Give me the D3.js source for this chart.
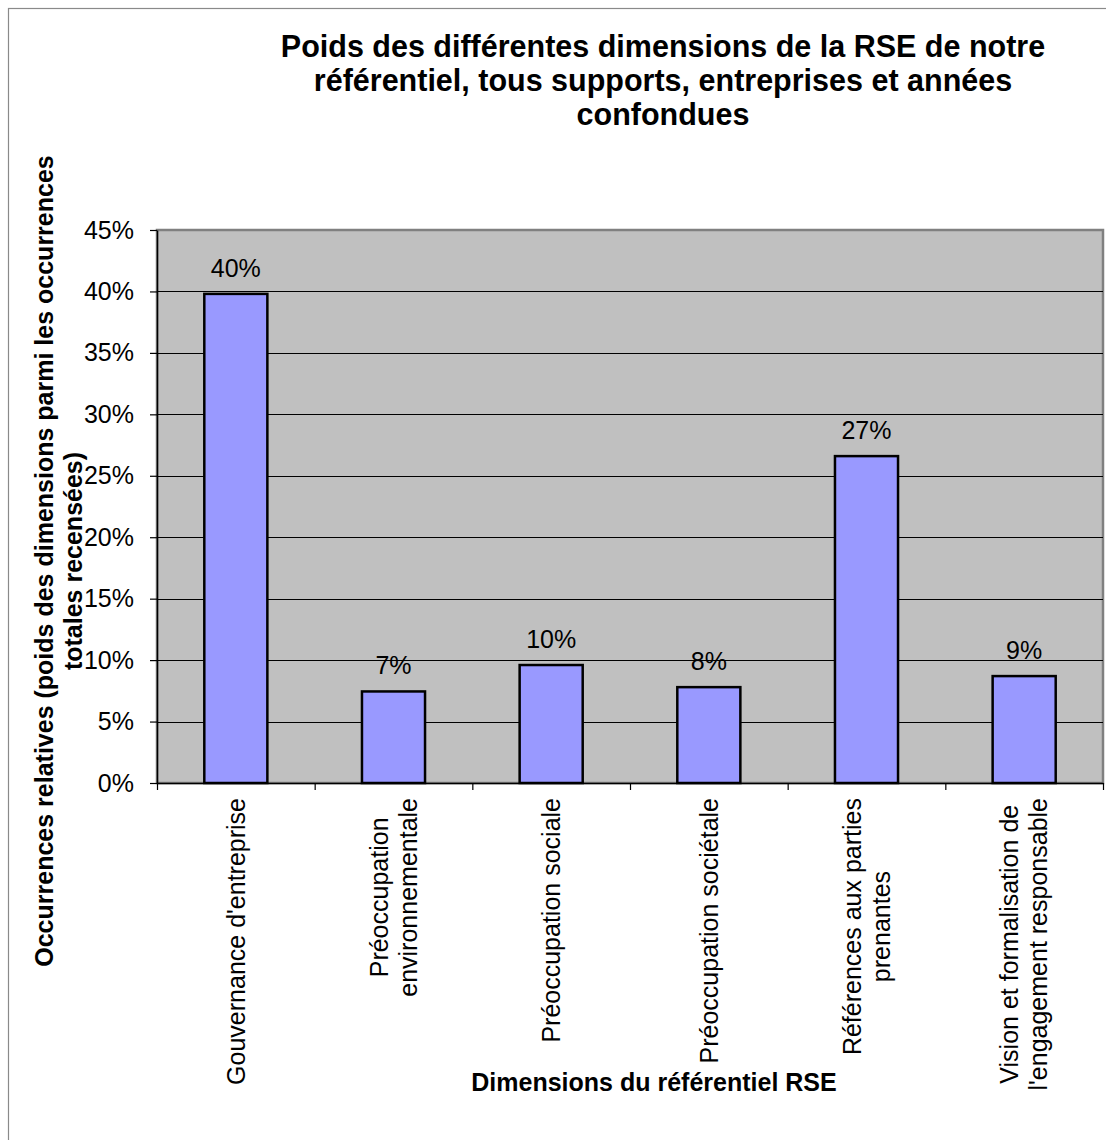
<!DOCTYPE html>
<html>
<head>
<meta charset="utf-8">
<script src="https://cdn.jsdelivr.net/npm/d3@7"></script>
<style>
  body { margin: 0; background: #fff; }
  text { font-family: Arial, "Liberation Sans", sans-serif; fill: #000; }
</style>
</head>
<body>
<script>
// data
var categories = ["Gouvernance d'entreprise", "Préoccupation environnementale", "Préoccupation sociale",
                  "Préoccupation sociétale", "Références aux parties prenantes",
                  "Vision et formalisation de l'engagement responsable"];
var tickLines = [["Gouvernance d'entreprise"], ["Préoccupation", "environnementale"], ["Préoccupation sociale"],
                 ["Préoccupation sociétale"], ["Références aux parties", "prenantes"],
                 ["Vision et formalisation de", "l'engagement responsable"]];
var values = [0.398, 0.0745, 0.096, 0.078, 0.266, 0.087];
var yTicks = [0, 0.05, 0.10, 0.15, 0.20, 0.25, 0.30, 0.35, 0.40, 0.45];
var titleLines = ["Poids des différentes dimensions de la RSE de notre",
                  "référentiel, tous supports, entreprises et années",
                  "confondues"];
var yTitleLines = ["Occurrences relatives (poids des dimensions parmi les occurrences",
                   "totales recensées)"];
var xTitle = "Dimensions du référentiel RSE";

var W = 1106, H = 1140;
var plot = {left: 157, right: 1103, top: 230, bottom: 783};

var svg = d3.select("body").append("svg")
    .attr("width", W)
    .attr("height", H);

// outer chart frame (runs off the picture on the right and bottom)
svg.append("rect")
    .attr("x", 8.5).attr("y", 8.5)
    .attr("width", 1200).attr("height", 1200)
    .attr("fill", "none")
    .attr("stroke", "#8a8a8a")
    .attr("stroke-width", 1.2);

var x = d3.scaleBand()
    .domain(categories)
    .range([plot.left, plot.right])
    .paddingInner(0.6)
    .paddingOuter(0.3);
var xEdge = d3.scaleLinear()
    .domain([0, categories.length])
    .range([plot.left, plot.right]);
var y = d3.scaleLinear()
    .domain([0, 0.45])
    .range([plot.bottom, plot.top]);
var pct = d3.format(".0%");

// plot area
svg.append("rect")
    .attr("x", plot.left).attr("y", plot.top)
    .attr("width", plot.right - plot.left)
    .attr("height", plot.bottom - plot.top)
    .attr("fill", "#c0c0c0")
    .attr("stroke", "#808080")
    .attr("stroke-width", 2.5);

// gridlines
svg.append("g")
    .selectAll("line")
    .data(yTicks.slice(1, -1))
    .join("line")
    .attr("x1", plot.left).attr("x2", plot.right)
    .attr("y1", function(d){ return Math.round(y(d)) + 0.5; })
    .attr("y2", function(d){ return Math.round(y(d)) + 0.5; })
    .attr("stroke", "#000")
    .attr("stroke-width", 1);

// bars
svg.append("g")
    .selectAll("rect")
    .data(values)
    .join("rect")
    .attr("x", function(d, i){ return x(categories[i]); })
    .attr("y", function(d){ return y(d); })
    .attr("width", x.bandwidth())
    .attr("height", function(d){ return y(0) - y(d); })
    .attr("fill", "#9999ff")
    .attr("stroke", "#000")
    .attr("stroke-width", 2.5);

// value labels
svg.append("g")
    .selectAll("text")
    .data(values)
    .join("text")
    .attr("x", function(d, i){ return x(categories[i]) + x.bandwidth() / 2; })
    .attr("y", function(d){ return y(d) - 17; })
    .attr("text-anchor", "middle")
    .style("font-size", "25px")
    .text(function(d){ return pct(d); });

// y axis
var yAxis = svg.append("g")
    .attr("transform", "translate(" + plot.left + ",0)")
    .call(d3.axisLeft(y).tickValues(yTicks).tickFormat(pct)
        .tickSize(7).tickSizeOuter(0).tickPadding(16));
yAxis.selectAll("text").style("font-size", "25px").attr("fill", "#000");

// x axis (ticks on category boundaries)
var xAxis = svg.append("g")
    .attr("transform", "translate(0," + plot.bottom + ")")
    .call(d3.axisBottom(xEdge).tickValues(d3.range(categories.length + 1))
        .tickFormat("").tickSize(7).tickSizeOuter(0));
[yAxis, xAxis].forEach(function(a){
    a.select(".domain").attr("stroke", "#000").attr("stroke-width", 1.5);
    a.selectAll(".tick line").attr("stroke", "#000").attr("stroke-width", 1.2);
});

// category labels, rotated, block top 15px below axis
var lineH = 29, labelTop = plot.bottom + 15;
var lab = svg.append("g")
    .selectAll("g")
    .data(categories)
    .join("g")
    .attr("transform", function(d){
        return "translate(" + (x(d) + x.bandwidth() / 2) + ",0) rotate(-90)";
    });
lab.each(function(d, i){
    var g = d3.select(this), lines = tickLines[i], n = lines.length;
    var t = g.selectAll("text").data(lines).join("text")
        .attr("text-anchor", "middle")
        .attr("y", function(l, k){ return (k - (n - 1) / 2) * lineH; })
        .attr("dy", "0.35em")
        .style("font-size", "25px")
        .text(function(l){ return l; });
    var maxLen = d3.max(t.nodes(), function(nd){ return nd.getComputedTextLength(); });
    t.attr("x", -(labelTop + maxLen / 2));
});

// title
svg.append("g")
    .selectAll("text")
    .data(titleLines)
    .join("text")
    .attr("x", 663)
    .attr("y", function(d, i){ return 56.5 + i * 34; })
    .attr("text-anchor", "middle")
    .style("font-size", "30.5px")
    .style("font-weight", "bold")
    .text(function(d){ return d; });

// y title
svg.append("g")
    .attr("transform", "translate(0,561) rotate(-90)")
    .selectAll("text")
    .data(yTitleLines)
    .join("text")
    .attr("x", 0)
    .attr("y", function(d, i){ return 53 + i * 29; })
    .attr("text-anchor", "middle")
    .style("font-size", "25px")
    .style("font-weight", "bold")
    .text(function(d){ return d; });

// x title
svg.append("text")
    .attr("x", 654)
    .attr("y", 1091)
    .attr("text-anchor", "middle")
    .style("font-size", "25px")
    .style("font-weight", "bold")
    .text(xTitle);
</script>
</body>
</html>
